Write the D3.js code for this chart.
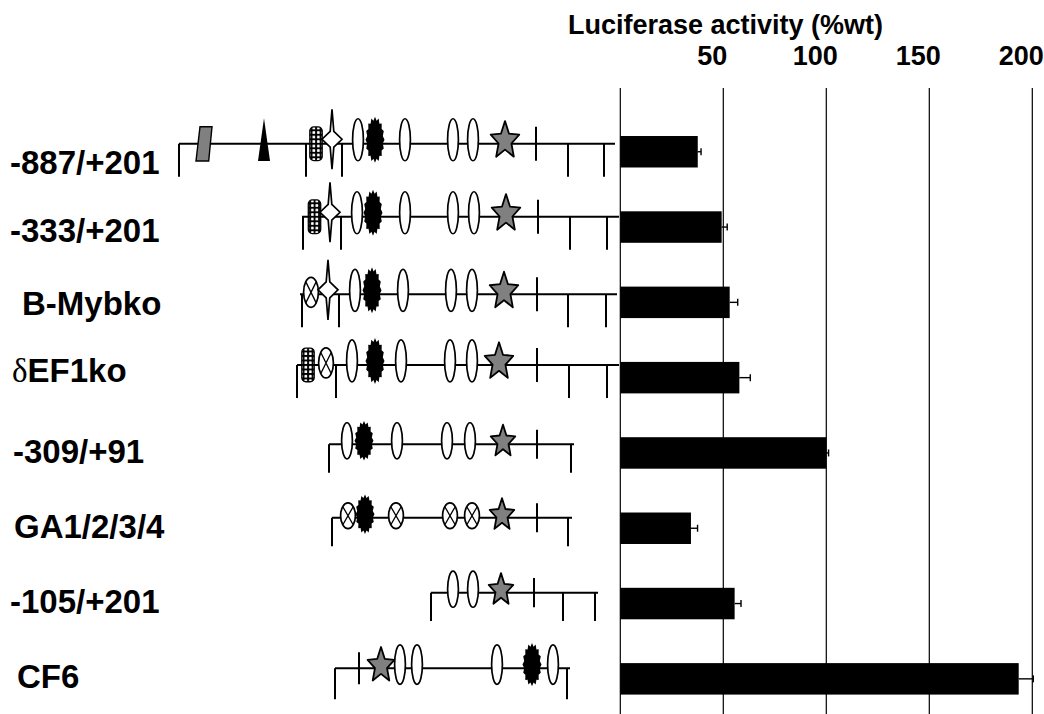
<!DOCTYPE html>
<html>
<head>
<meta charset="utf-8">
<script src="https://cdn.jsdelivr.net/npm/d3@7"></script>
<style>
  body { margin: 0; background: #fff; }
  text { font-family: "Liberation Sans", Arial, sans-serif; font-weight: bold; fill: #000; }
</style>
</head>
<body>
<script>
// values
var constructNames = ['-887/+201', '-333/+201', 'B-Mybko', 'EF1ko', '-309/+91', 'GA1/2/3/4', '-105/+201', 'CF6'];
var activity = [37.6, 49.2, 53.1, 57.8, 100, 34.3, 55.5, 193.4];
var activityErr = [1.6, 2.7, 3.9, 5.3, 1.1, 3.2, 3.1, 7.1];
var gridValues = [0, 50, 100, 150, 200];
var tickValues = [50, 100, 150, 200];

// promoter maps, in map units
var lineSpans = [[4, 440], [127, 444], [125, 442], [122, 444], [154, 399], [157, 397], [256, 423], [160, 395]];
var downTicks = [
    [4, 131, 167, 393, 429],
    [128, 166, 395, 432],
    [127, 164, 393, 431],
    [122, 161, 394, 432],
    [154, 396],
    [157, 393],
    [256, 388, 420],
    [160, 392]
];
var crossTicks = [361, 363, 362, 362, 362, 362, 359, 184];
var features = [
    [['para', 29], ['tri', 89], ['checker', 141], ['four', 157], ['oval', 183], ['sun', 200], ['oval', 230], ['oval', 278], ['oval', 298], ['star', 330]],
    [['checker', 139.5], ['four', 155], ['oval', 182], ['sun', 198], ['oval', 230], ['oval', 278], ['oval', 299], ['star', 331]],
    [['xoval', 136], ['four', 153], ['oval', 180], ['sun', 197], ['oval', 228], ['oval', 276], ['oval', 297], ['star', 329]],
    [['checker', 133], ['xoval', 151], ['oval', 177], ['sun', 200], ['oval', 226], ['oval', 275], ['oval', 297], ['star', 324]],
    [['oval', 172], ['sun', 189], ['oval', 222], ['oval', 272], ['oval', 295], ['star', 328]],
    [['xoval', 173], ['sun', 190], ['xoval', 221], ['xoval', 275], ['xoval', 297], ['star', 327]],
    [['oval', 278], ['oval', 298], ['star', 326]],
    [['star', 206], ['oval', 225], ['oval', 242], ['oval', 322], ['sun', 357], ['oval', 378]]
];

// layout
var svgWidth = 1044;
var svgHeight = 714;
var labelX = [10, 10, 22, 12, 13, 14, 10, 17];
var labelDy = [22.5, 15, 12.6, 4, 10.3, 10, 9.1, 9.4];
var baseDy = [-8, -10.3, -8, -12.7, -8.7, -10.5, -10.9, -10.5];
var glyphScale = [1, 1, 1, 1, 0.86, 0.86, 0.86, 0.94];

var svg = d3.select('body').append('svg')
    .attr('width', svgWidth)
    .attr('height', svgHeight);

var defs = svg.append('defs');
var pat = defs.append('pattern')
    .attr('id', 'mesh')
    .attr('patternUnits', 'userSpaceOnUse')
    .attr('width', 4.5)
    .attr('height', 4.5);
pat.append('rect').attr('width', 4.5).attr('height', 4.5).attr('fill', '#000');
pat.append('rect').attr('x', 1).attr('y', 1).attr('width', 2.7).attr('height', 2.7).attr('rx', 0.8).attr('fill', '#fff');

var xScale = d3.scaleLinear().domain([0, 200]).range([620.3, 1032.3]);
var yScale = d3.scaleBand()
    .domain(d3.range(constructNames.length))
    .range([114.1, 716.5])
    .paddingInner(0.582)
    .paddingOuter(0.291);
var mapX = d3.scaleLinear().domain([0, 440]).range([175, 615]);

/* bar chart part */
svg.append('text')
    .attr('x', 568)
    .attr('y', 34)
    .attr('font-size', '27px')
    .text('Luciferase activity (%wt)');

svg.append('g').selectAll('text')
    .data(tickValues)
    .enter()
    .append('text')
    .attr('x', d => xScale(d) - 11)
    .attr('y', 65)
    .attr('text-anchor', 'middle')
    .attr('font-size', '27px')
    .text(d => d);

svg.append('g').selectAll('line')
    .data(gridValues)
    .enter()
    .append('line')
    .attr('x1', d => xScale(d))
    .attr('x2', d => xScale(d))
    .attr('y1', 88)
    .attr('y2', svgHeight)
    .attr('stroke', '#000')
    .attr('stroke-width', 1.2);

var rows = d3.range(constructNames.length);

svg.append('g').selectAll('rect')
    .data(rows)
    .enter()
    .append('rect')
    .attr('x', xScale(0))
    .attr('y', i => yScale(i))
    .attr('width', i => xScale(activity[i]) - xScale(0))
    .attr('height', yScale.bandwidth())
    .attr('fill', '#000');

var errG = svg.append('g').attr('stroke', '#000').attr('stroke-width', 1.4);
rows.forEach(function(i) {
    var cy = yScale(i) + yScale.bandwidth() / 2;
    var x1 = xScale(activity[i]);
    var x2 = xScale(activity[i] + activityErr[i]);
    errG.append('line').attr('x1', x1).attr('x2', x2).attr('y1', cy).attr('y2', cy);
    errG.append('line').attr('x1', x2).attr('x2', x2).attr('y1', cy - 3.5).attr('y2', cy + 3.5);
});

/* construct labels */
rows.forEach(function(i) {
    var cy = yScale(i) + yScale.bandwidth() / 2;
    var t = svg.append('text')
        .attr('x', labelX[i])
        .attr('y', cy + labelDy[i])
        .attr('font-size', '33px');
    if (i === 3) {
        t.append('tspan')
            .style('font-family', '"Liberation Serif", "DejaVu Serif", serif')
            .style('font-weight', 'normal')
            .text('\u03b4');
    }
    t.append('tspan').text(constructNames[i]);
});

/* promoter maps */
function starPoints(rx, ry, inner) {
    var pts = [];
    for (var k = 0; k < 10; k++) {
        var a = -Math.PI / 2 + k * Math.PI / 5;
        var r = k % 2 === 0 ? 1 : inner;
        pts.push([r * rx * Math.cos(a), r * ry * Math.sin(a)]);
    }
    return pts;
}

function sunPoints(rx, ry) {
    var pts = [];
    var n = 32;
    for (var k = 0; k < n; k++) {
        var a = k * 2 * Math.PI / n;
        var r = k % 2 === 0 ? 1 : 0.84;
        pts.push([r * rx * Math.cos(a), r * ry * Math.sin(a)]);
    }
    return pts;
}

var closedPath = d3.line().curve(d3.curveLinearClosed);

function drawGlyph(g, type, s) {
    if (type === 'oval') {
        g.append('ellipse').attr('cx', 0).attr('cy', -4 * s)
            .attr('rx', 5.4).attr('ry', 21 * s)
            .attr('fill', '#fff').attr('stroke', '#000').attr('stroke-width', 1.7);
    } else if (type === 'xoval') {
        var rx = 7.4, ry = 15 * s, cy = -2;
        g.append('ellipse').attr('cx', 0).attr('cy', cy)
            .attr('rx', rx).attr('ry', ry)
            .attr('fill', '#fff').attr('stroke', '#000').attr('stroke-width', 1.7);
        var dx = rx * 0.7, dy = ry * 0.7;
        g.append('path')
            .attr('d', `M${-dx},${cy - dy}L${dx},${cy + dy}M${dx},${cy - dy}L${-dx},${cy + dy}`)
            .attr('stroke', '#000').attr('stroke-width', 1.3);
    } else if (type === 'sun') {
        g.append('path')
            .attr('transform', `translate(0,${-4 * s})`)
            .attr('d', closedPath(sunPoints(9.5, 23 * s)))
            .attr('fill', '#000');
    } else if (type === 'star') {
        g.append('path')
            .attr('transform', `translate(0,${-3 * s})`)
            .attr('d', closedPath(starPoints(15 * s, 19.7 * s, 0.45)))
            .attr('fill', '#808080').attr('stroke', '#000').attr('stroke-width', 1.8)
            .attr('stroke-linejoin', 'round');
    } else if (type === 'four') {
        var pts = [[0, -30], [1.8, -8], [10, 0], [1.8, 8], [0, 30], [-1.8, 8], [-10, 0], [-1.8, -8]];
        g.append('path')
            .attr('transform', 'translate(0,-4.5)')
            .attr('d', closedPath(pts))
            .attr('fill', '#fff').attr('stroke', '#000').attr('stroke-width', 1.7);
    } else if (type === 'checker') {
        g.append('rect').attr('x', -6.2).attr('y', -16.8)
            .attr('width', 12.4).attr('height', 33.6).attr('rx', 4)
            .attr('fill', 'url(#mesh)').attr('stroke', '#000').attr('stroke-width', 1.3);
    } else if (type === 'tri') {
        g.append('path')
            .attr('d', closedPath([[0, -25.4], [6, 17.3], [-6, 17.3]]))
            .attr('fill', '#000');
    } else if (type === 'para') {
        g.append('path')
            .attr('d', closedPath([[-4, -17], [8, -17], [4.7, 17.3], [-8, 17.3]]))
            .attr('fill', '#808080').attr('stroke', '#000').attr('stroke-width', 1.4);
    }
}

rows.forEach(function(i) {
    var base = yScale(i) + yScale.bandwidth() / 2 + baseDy[i];
    var s = glyphScale[i];
    var row = svg.append('g').attr('class', 'construct');
    var lineG = row.append('g').attr('stroke', '#000').attr('stroke-width', 2);

    lineG.append('line')
        .attr('x1', mapX(lineSpans[i][0])).attr('x2', mapX(lineSpans[i][1]))
        .attr('y1', base).attr('y2', base);

    lineG.selectAll('.down')
        .data(downTicks[i])
        .enter()
        .append('line')
        .attr('x1', d => mapX(d)).attr('x2', d => mapX(d))
        .attr('y1', base).attr('y2', base + 33 * s);

    lineG.append('line')
        .attr('x1', mapX(crossTicks[i])).attr('x2', mapX(crossTicks[i]))
        .attr('y1', base - 17 * s).attr('y2', base + 17 * s);

    features[i].forEach(function(f) {
        var g = row.append('g').attr('transform', `translate(${mapX(f[1])},${base})`);
        drawGlyph(g, f[0], s);
    });
});
</script>
</body>
</html>
